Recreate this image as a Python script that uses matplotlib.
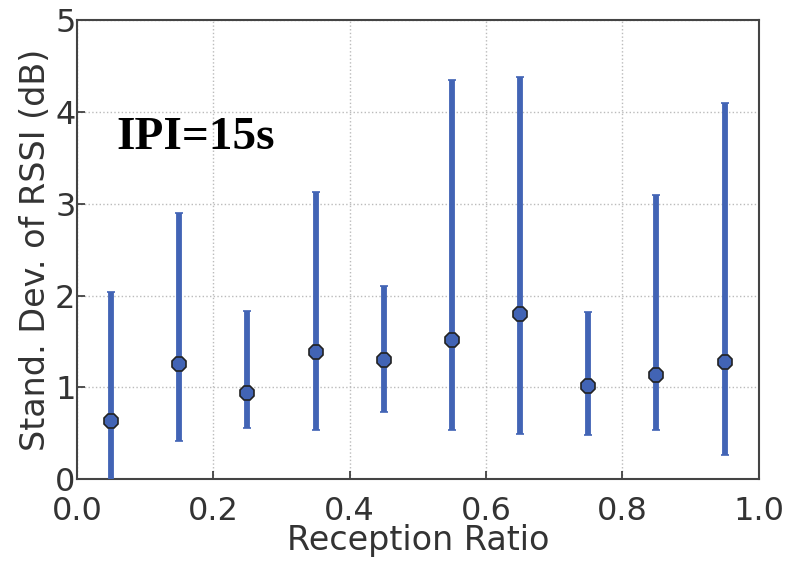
import matplotlib
matplotlib.use('Agg')
import numpy as np
import matplotlib.pyplot as plt

# reception ratio bins and RSSI std-dev stats (dB)
ratio = [0.05, 0.15, 0.25, 0.35, 0.45, 0.55, 0.65, 0.75, 0.85, 0.95]
mean_std = [0.63, 1.26, 0.94, 1.38, 1.30, 1.52, 1.80, 1.02, 1.14, 1.28]
max_std = [2.04, 2.90, 1.83, 3.13, 2.10, 4.35, 4.38, 1.82, 3.10, 4.10]
min_std = [-0.1, 0.42, 0.56, 0.53, 0.73, 0.53, 0.49, 0.48, 0.53, 0.26]

xticks = [0.0, 0.2, 0.4, 0.6, 0.8, 1.0]
yticks = [0, 1, 2, 3, 4, 5]

mean_std = np.array(mean_std)
err = [mean_std - np.array(min_std), np.array(max_std) - mean_std]

fig = plt.figure(figsize=(8.02, 5.65), dpi=100)
ax = fig.add_axes([0.096, 0.152, 0.850, 0.812])

ax.errorbar(ratio, mean_std, yerr=err, fmt='8', color='#4264b5',
            ecolor='#4264b5', elinewidth=4.2, capsize=3, capthick=1.5,
            markersize=10.5, markeredgecolor='#222222', markeredgewidth=1.2,
            zorder=3)

ax.set_xlim(0, 1.0)
ax.set_ylim(0, 5)
ax.set_xticks(xticks)
ax.set_yticks(yticks)
ax.set_xticklabels([f'{t:.1f}' for t in xticks])
ax.set_yticklabels([str(t) for t in yticks])
ax.tick_params(direction='in', labelsize=23, colors='#333333', length=6,
               width=1.2)
ax.tick_params(axis='y', pad=1)
ax.tick_params(axis='x', pad=12)
ax.grid(True, linestyle=':', color='#bbbbbb', linewidth=1)
for s in ax.spines.values():
    s.set_color('#444444')
    s.set_linewidth(1.5)

ax.set_xlabel('Reception Ratio', fontsize=24, color='#333333', labelpad=-2)
ax.set_ylabel('Stand. Dev. of RSSI (dB)', fontsize=24, color='#333333', labelpad=2)

ax.text(0.058, 0.72, 'IPI=15s', transform=ax.transAxes, fontsize=34,
        fontweight='bold', family='Liberation Serif', color='black')

fig.savefig('out.png', dpi=100)
